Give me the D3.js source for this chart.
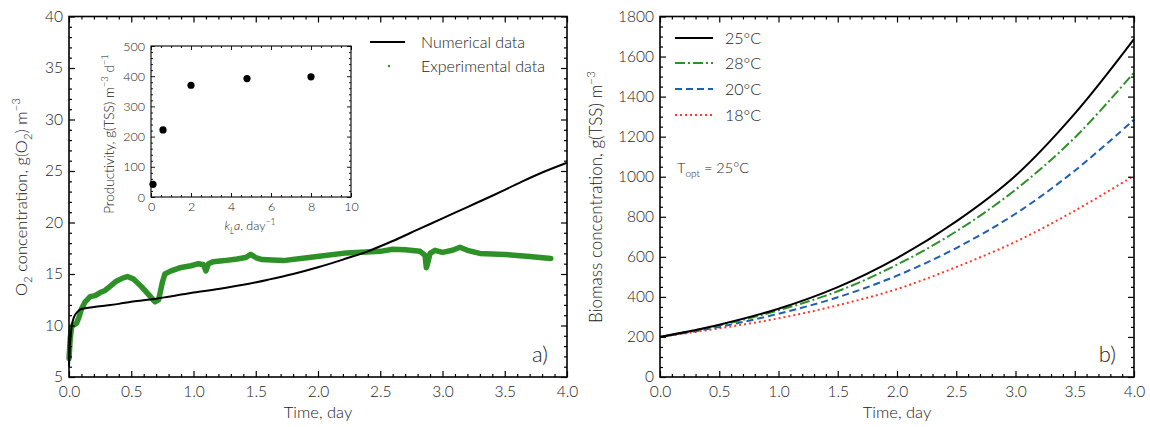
<!DOCTYPE html>
<html><head><meta charset="utf-8">
<script src="https://cdn.jsdelivr.net/npm/d3@7"></script>
<style>
body{margin:0;background:#fff}
svg{display:block}
text{font-family:Lato,"DejaVu Sans",sans-serif;font-weight:300}
</style>
</head><body>
<svg id="c" width="1150" height="427"></svg>
<script>
// ---------- data ----------
const timeTicks = [0, 0.5, 1, 1.5, 2, 2.5, 3, 3.5, 4];
const o2Ticks = [5, 10, 15, 20, 25, 30, 35, 40];
const biomassTicks = [0, 200, 400, 600, 800, 1000, 1200, 1400, 1600, 1800];
const klaTicks = [0, 2, 4, 6, 8, 10];
const prodTicks = [0, 100, 200, 300, 400, 500];

// panel a: numerical O2
const numTime = [0, 0.01, 0.02, 0.04, 0.07, 0.1, 0.2, 0.3, 0.4, 0.5, 0.6, 0.7, 0.8, 0.9, 1.0, 1.2, 1.4, 1.6, 1.8, 2.0, 2.2, 2.4, 2.6, 2.8, 3.0, 3.2, 3.4, 3.6, 3.8, 4.0];
const numO2 = [6.0, 8.5, 9.8, 10.8, 11.35, 11.6, 11.8, 11.95, 12.1, 12.3, 12.45, 12.6, 12.8, 13.0, 13.2, 13.55, 13.95, 14.45, 15.0, 15.65, 16.4, 17.2, 18.2, 19.3, 20.4, 21.5, 22.6, 23.75, 24.85, 25.8];

// panel a: experimental O2
const expTime = [0.0, 0.01, 0.02, 0.03, 0.06, 0.08, 0.1, 0.13, 0.17, 0.21, 0.25, 0.29, 0.33, 0.38, 0.44, 0.47, 0.52, 0.58, 0.64, 0.69, 0.72, 0.75, 0.77, 0.82, 0.89, 0.98, 1.04, 1.08, 1.1, 1.12, 1.16, 1.25, 1.35, 1.42, 1.46, 1.5, 1.55, 1.72, 1.96, 2.23, 2.5, 2.6, 2.7, 2.82, 2.86, 2.87, 2.88, 2.9, 2.94, 3.0, 3.08, 3.14, 3.2, 3.3, 3.5, 3.7, 3.87];
const expO2 = [6.8, 8.8, 9.8, 10.0, 10.2, 10.8, 11.6, 12.3, 12.8, 12.9, 13.2, 13.4, 13.8, 14.3, 14.65, 14.75, 14.5, 13.8, 13.0, 12.3, 12.5, 14.2, 15.0, 15.3, 15.6, 15.8, 16.0, 15.9, 15.3, 16.0, 16.2, 16.3, 16.45, 16.6, 16.9, 16.6, 16.4, 16.3, 16.65, 17.05, 17.2, 17.4, 17.35, 17.2, 16.8, 15.6, 16.0, 17.0, 17.3, 17.1, 17.3, 17.6, 17.3, 17.0, 16.9, 16.7, 16.5];

// inset
const kla = [0.1, 0.6, 2, 4.8, 8];
const productivity = [42, 222, 370, 392, 398];

// panel b: biomass
const bTime = [0, 0.5, 1, 1.5, 2, 2.5, 3, 3.5, 4];
const b25 = [200, 261, 341, 449, 594, 777, 1005, 1315, 1687];
const b28 = [200, 258, 333, 428, 561, 727, 935, 1195, 1520];
const b20 = [200, 250, 316, 398, 506, 644, 815, 1030, 1285];
const b18 = [200, 243, 293, 358, 439, 549, 675, 830, 1005];
const bLabels = ["25°C", "28°C", "20°C", "18°C"];

// ---------- helpers ----------
const svg = d3.select("#c");
const TXT = "#222";
const range = (a, b, s) => d3.range(a, b + s / 2, s);

function rich(sel, parts, fs) {
  let shift = 0;
  parts.forEach(p => {
    const ts = sel.append("tspan").text(p[0]);
    const target = p[1] === "sub" ? fs * 0.28 : p[1] === "sup" ? -fs * 0.42 : 0;
    if (target - shift !== 0) ts.attr("dy", target - shift);
    shift = target;
    if (p[1]) ts.attr("font-size", fs * 0.7);
    if (p[2]) ts.attr("font-style", "italic");
  });
  return sel;
}

function frame(g, x, y, o) {
  const [x0, x1] = x.range(), [y0, y1] = y.range();
  const w = x1 - x0, h = y0 - y1;
  g.append("g").attr("transform", `translate(0,${y0})`)
    .call(d3.axisBottom(x).tickValues(o.xMajor).tickSize(-o.maj).tickPadding(o.xPad).tickFormat(o.xFmt));
  g.append("g").attr("transform", `translate(0,${y0})`)
    .call(d3.axisBottom(x).tickValues(o.xMinor).tickSize(-o.min).tickFormat(""));
  g.append("g").attr("transform", `translate(0,${y1})`)
    .call(d3.axisTop(x).tickValues(o.xMajor).tickSize(-o.maj).tickFormat(""));
  g.append("g").attr("transform", `translate(0,${y1})`)
    .call(d3.axisTop(x).tickValues(o.xMinor).tickSize(-o.min).tickFormat(""));
  g.append("g").attr("transform", `translate(${x0},0)`)
    .call(d3.axisLeft(y).tickValues(o.yMajor).tickSize(-o.maj).tickPadding(o.yPad).tickFormat(o.yFmt));
  g.append("g").attr("transform", `translate(${x0},0)`)
    .call(d3.axisLeft(y).tickValues(o.yMinor).tickSize(-o.min).tickFormat(""));
  g.append("g").attr("transform", `translate(${x1},0)`)
    .call(d3.axisRight(y).tickValues(o.yMajor).tickSize(-o.maj).tickFormat(""));
  g.append("g").attr("transform", `translate(${x1},0)`)
    .call(d3.axisRight(y).tickValues(o.yMinor).tickSize(-o.min).tickFormat(""));
  g.selectAll(".domain").remove();
  g.selectAll(".tick line").attr("stroke", "#000").attr("stroke-width", o.tw);
  g.selectAll(".tick text").attr("fill", TXT).attr("font-size", o.fs)
    .attr("font-family", "Lato").attr("font-weight", 300);
  g.append("rect").attr("x", x0).attr("y", y1).attr("width", w).attr("height", h)
    .attr("fill", "none").attr("stroke", "#000").attr("stroke-width", o.fw);
}

svg.append("rect").attr("width", 1150).attr("height", 427).attr("fill", "#fff");

// ---------- panel a ----------
const GREEN = "#2e9128";
const xa = d3.scaleLinear().domain([0, 4]).range([69, 567]);
const ya = d3.scaleLinear().domain([5, 40]).range([377, 16.5]);
const ga = svg.append("g");

ga.append("path")
  .attr("d", d3.line().x((d, i) => xa(expTime[i])).y(d => ya(d)).curve(d3.curveLinear)(expO2))
  .attr("fill", "none").attr("stroke", GREEN).attr("stroke-width", 5.5)
  .attr("stroke-linejoin", "round").attr("stroke-linecap", "round");
ga.append("path")
  .attr("d", d3.line().x((d, i) => xa(numTime[i])).y(d => ya(d)).curve(d3.curveMonotoneX)(numO2))
  .attr("fill", "none").attr("stroke", "#000").attr("stroke-width", 2);

frame(ga, xa, ya, {
  xMajor: timeTicks, xMinor: range(0, 4, 0.1).filter(v => Math.abs(v * 2 - Math.round(v * 2)) > 1e-6),
  yMajor: o2Ticks, yMinor: range(5, 40, 1).filter(v => v % 5 !== 0),
  maj: 6, min: 3, xPad: 9, yPad: 6, fs: 15.5, tw: 1.2, fw: 1.6,
  xFmt: d3.format(".1f"), yFmt: d3.format("d")
});

// legend a
ga.append("line").attr("x1", 370).attr("x2", 405).attr("y1", 42).attr("y2", 42).attr("stroke", "#000").attr("stroke-width", 2);
ga.append("text").attr("x", 421).attr("y", 42).attr("dy", "0.35em").attr("font-size", 16).attr("fill", TXT).text("Numerical data");
ga.append("circle").attr("cx", 389).attr("cy", 66).attr("r", 1.2).attr("fill", GREEN);
ga.append("text").attr("x", 421).attr("y", 66).attr("dy", "0.35em").attr("font-size", 16).attr("fill", TXT).text("Experimental data");

ga.append("text").attr("x", 548).attr("y", 362).attr("text-anchor", "end").attr("font-size", 22).attr("fill", TXT).text("a)");

// axis labels a
ga.append("text").attr("x", 318).attr("y", 418).attr("text-anchor", "middle").attr("font-size", 16.5).attr("fill", TXT).text("Time, day");
rich(ga.append("text").attr("transform", "translate(27,197) rotate(-90)").attr("text-anchor", "middle")
  .attr("font-size", 16.5).attr("fill", TXT),
  [["O"], ["2", "sub"], [" concentration, g(O"], ["2", "sub"], [") m"], ["−3", "sup"]], 16.5);

// inset
const xi = d3.scaleLinear().domain([0, 10]).range([151, 351]);
const yi = d3.scaleLinear().domain([0, 500]).range([197, 46]);
const gi = svg.append("g");
gi.append("rect").attr("x", 151).attr("y", 46).attr("width", 200).attr("height", 151).attr("fill", "#fff");
frame(gi, xi, yi, {
  xMajor: klaTicks, xMinor: range(0, 10, 0.5).filter(v => v % 2 !== 0),
  yMajor: prodTicks, yMinor: range(0, 500, 20).filter(v => v % 100 !== 0),
  maj: 4, min: 2, xPad: 5, yPad: 6, fs: 12.5, tw: 0.9, fw: 1.1,
  xFmt: d3.format("d"), yFmt: d3.format("d")
});
gi.selectAll("circle.pt").data(productivity).join("circle").attr("class", "pt")
  .attr("cx", (d, i) => xi(kla[i])).attr("cy", d => yi(d)).attr("r", 3.6).attr("fill", "#000");
rich(gi.append("text").attr("x", 250).attr("y", 230).attr("text-anchor", "middle").attr("font-size", 12.5).attr("fill", TXT),
  [["k", null, true], ["L", "sub", true], ["a", null, true], [", day"], ["−1", "sup"]], 12.5);
rich(gi.append("text").attr("transform", "translate(114,134) rotate(-90)").attr("text-anchor", "middle")
  .attr("font-size", 13.5).attr("fill", TXT),
  [["Productivity, g(TSS) m"], ["−3", "sup"], [" d"], ["−1", "sup"]], 13.5);

// ---------- panel b ----------
const xb = d3.scaleLinear().domain([0, 4]).range([660, 1134]);
const yb = d3.scaleLinear().domain([0, 1800]).range([377, 16.5]);
const gb = svg.append("g");

const series = [
  { v: b25, c: "#000", dash: null, w: 2 },
  { v: b28, c: GREEN, dash: "10,3,2,3", w: 2 },
  { v: b20, c: "#1f5fb0", dash: "7,4", w: 2 },
  { v: b18, c: "#ff3a28", dash: "2,3", w: 2 }
];
const lineB = d3.line().x((d, i) => xb(bTime[i])).y(d => yb(d)).curve(d3.curveCatmullRom);
series.slice().reverse().forEach(s => {
  gb.append("path").attr("d", lineB(s.v)).attr("fill", "none").attr("stroke", s.c)
    .attr("stroke-width", s.w).attr("stroke-dasharray", s.dash);
});

frame(gb, xb, yb, {
  xMajor: timeTicks, xMinor: range(0, 4, 0.1).filter(v => Math.abs(v * 2 - Math.round(v * 2)) > 1e-6),
  yMajor: biomassTicks, yMinor: range(0, 1800, 50).filter(v => v % 200 !== 0),
  maj: 6, min: 3, xPad: 9, yPad: 6, fs: 15.5, tw: 1.2, fw: 1.6,
  xFmt: d3.format(".1f"), yFmt: d3.format("d")
});

// legend b
const legY = [38, 63, 89, 115];
series.forEach((s, i) => {
  gb.append("line").attr("x1", 675).attr("x2", 713).attr("y1", legY[i]).attr("y2", legY[i])
    .attr("stroke", s.c).attr("stroke-width", s.w).attr("stroke-dasharray", s.dash);
  gb.append("text").attr("x", 725).attr("y", legY[i]).attr("dy", "0.35em").attr("font-size", 16)
    .attr("fill", TXT).text(bLabels[i]);
});
rich(gb.append("text").attr("x", 677).attr("y", 173).attr("font-size", 14.5).attr("fill", TXT),
  [["T"], ["opt", "sub"], [" = 25°C"]], 14.5);

gb.append("text").attr("x", 1116).attr("y", 362).attr("text-anchor", "end").attr("font-size", 22).attr("fill", TXT).text("b)");

gb.append("text").attr("x", 897).attr("y", 418).attr("text-anchor", "middle").attr("font-size", 16.5).attr("fill", TXT).text("Time, day");
rich(gb.append("text").attr("transform", "translate(602,197) rotate(-90)").attr("text-anchor", "middle")
  .attr("font-size", 17).attr("fill", TXT),
  [["Biomass concentration, g(TSS) m"], ["−3", "sup"]], 17);
</script>
</body></html>
